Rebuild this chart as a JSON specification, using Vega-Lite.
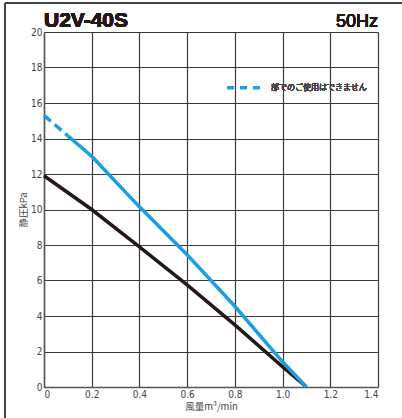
{
  "$schema": "https://vega.github.io/schema/vega-lite/v6.json",
  "width": 334,
  "height": 355,
  "autosize": {"type": "none"},
  "padding": {"left": 44, "top": 32, "right": 24, "bottom": 31},
  "background": "white",
  "config": {"view": {"stroke": null}},
  "data": {"values": [
    {"s": "black", "x": 0, "y": 11.9},
    {"s": "black", "x": 0.2, "y": 10.0},
    {"s": "black", "x": 0.4, "y": 7.9},
    {"s": "black", "x": 0.6, "y": 5.75},
    {"s": "black", "x": 0.8, "y": 3.5},
    {"s": "black", "x": 1.0, "y": 1.14},
    {"s": "black", "x": 1.1, "y": 0},
    {"s": "dash", "x": 0, "y": 15.3},
    {"s": "dash", "x": 0.1, "y": 14.15},
    {"s": "solid", "x": 0.1, "y": 14.15},
    {"s": "solid", "x": 0.2, "y": 13.0},
    {"s": "solid", "x": 0.4, "y": 10.15},
    {"s": "solid", "x": 0.6, "y": 7.45},
    {"s": "solid", "x": 0.8, "y": 4.55},
    {"s": "solid", "x": 1.0, "y": 1.42},
    {"s": "solid", "x": 1.1, "y": 0},
    {"s": "legend", "x": 0.767, "y": 16.86},
    {"s": "legend", "x": 0.905, "y": 16.86}
  ]},
  "encoding": {
    "x": {"field": "x", "type": "quantitative", "scale": {"domain": [0, 1.4], "nice": false, "zero": false},
      "axis": {"values": [0, 0.2, 0.4, 0.6, 0.8, 1.0, 1.2, 1.4], "labelExpr": "datum.value == 0 ? '0' : format(datum.value, '.1f')",
        "grid": true, "gridColor": "#3a3a3a", "gridWidth": 1.2, "domainColor": "#555", "domainWidth": 1.5, "ticks": false, "labelPadding": 2,
        "labelFont": "'Liberation Sans Narrow', 'DejaVu Sans Condensed', 'Liberation Sans'", "labelFontSize": 10, "labelColor": "#444",
        "title": "風量m³/min", "titleFont": "Noto Sans CJK JP", "titleFontSize": 9.5, "titleFontWeight": "normal", "titleColor": "#444", "titlePadding": 2}},
    "y": {"field": "y", "type": "quantitative", "scale": {"domain": [0, 20], "nice": false},
      "axis": {"values": [0, 2, 4, 6, 8, 10, 12, 14, 16, 18, 20],
        "grid": true, "gridColor": "#3a3a3a", "gridWidth": 1.2, "domainColor": "#555", "domainWidth": 1.5, "ticks": false, "labelPadding": 2,
        "labelFont": "'Liberation Sans Narrow', 'DejaVu Sans Condensed', 'Liberation Sans'", "labelFontSize": 10, "labelColor": "#444",
        "title": "静圧kPa", "titleFont": "Noto Sans CJK JP", "titleFontSize": 9.5, "titleFontWeight": "normal", "titleColor": "#444", "titlePadding": 2}}
  },
  "layer": [
    {"transform": [{"filter": "datum.s == 'black'"}], "mark": {"type": "line", "color": "#231815", "strokeWidth": 3.5}},
    {"transform": [{"filter": "datum.s == 'solid'"}], "mark": {"type": "line", "color": "#1a9fe0", "strokeWidth": 3.5}},
    {"transform": [{"filter": "datum.s == 'dash'"}], "mark": {"type": "line", "color": "#1a9fe0", "strokeWidth": 3.5, "strokeDash": [9, 5]}},
    {"transform": [{"filter": "datum.s == 'legend'"}], "mark": {"type": "line", "color": "#1a9fe0", "strokeWidth": 3.5, "strokeDash": [7, 6]}},
    {"mark": {"type": "text", "text": "部でのご使用はできません", "font": "Noto Sans CJK JP", "fontSize": 8, "fontWeight": 300, "color": "#444", "align": "left", "baseline": "middle"},
      "encoding": {"x": {"datum": 0.951}, "y": {"datum": 16.86}}},
    {"mark": {"type": "text", "text": "U2V-40S", "font": "Liberation Sans", "fontSize": 21, "fontWeight": "bold", "color": "#231815", "align": "left", "baseline": "alphabetic", "dy": -5},
      "encoding": {"x": {"datum": 0}, "y": {"datum": 20}}},
    {"mark": {"type": "text", "text": "50Hz", "font": "Liberation Sans", "fontSize": 18, "fontWeight": "normal", "color": "#231815", "align": "right", "baseline": "alphabetic", "dy": -5},
      "encoding": {"x": {"datum": 1.4}, "y": {"datum": 20}}},
    {"mark": {"type": "rule", "color": "#444", "strokeWidth": 1.2},
      "encoding": {"x": {"datum": -0.1635}, "y": {"datum": 21.63}, "y2": {"datum": -2.2}}},
    {"mark": {"type": "rule", "color": "#444", "strokeWidth": 1.2},
      "encoding": {"x": {"datum": -0.1635}, "x2": {"datum": 1.55}, "y": {"datum": 21.63}}}
  ]
}
